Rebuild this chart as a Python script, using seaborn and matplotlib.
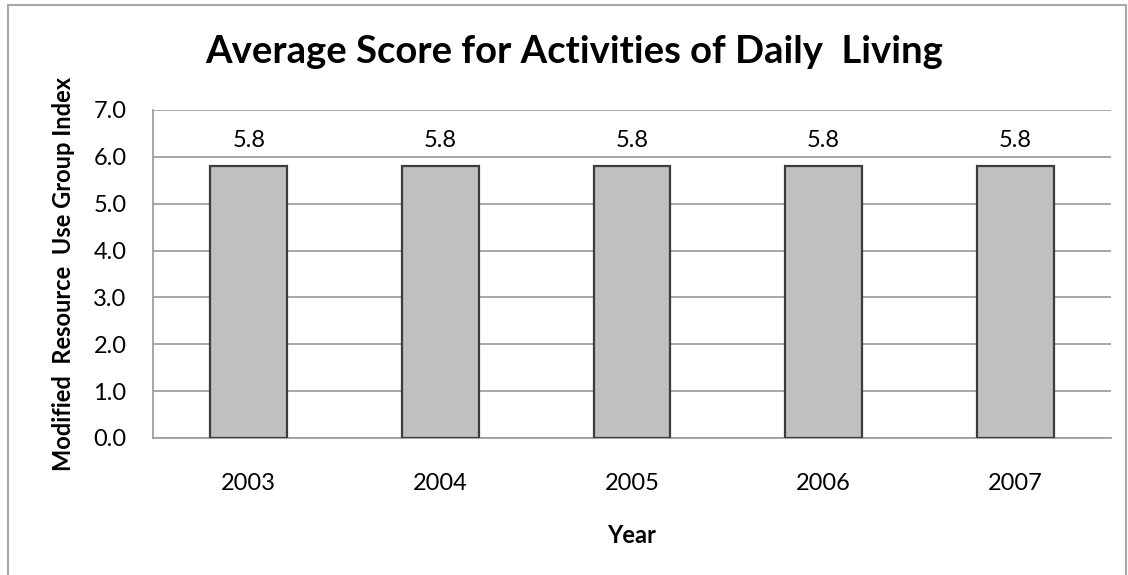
import matplotlib
matplotlib.use("Agg")
import matplotlib.pyplot as plt
from matplotlib.patches import Rectangle
import numpy as np
import pandas as pd
import seaborn as sns

# chart data
years = ["2003", "2004", "2005", "2006", "2007"]
scores = [5.8, 5.8, 5.8, 5.8, 5.8]
y_ticks = [0.0, 1.0, 2.0, 3.0, 4.0, 5.0, 6.0, 7.0]

df = pd.DataFrame({"Year": years, "Score": scores})

sns.set_style("white")
plt.rcParams['font.family'] = ['Lato', 'DejaVu Sans']
plt.rcParams['text.color'] = "black"
plt.rcParams['xtick.labelcolor'] = "black"
plt.rcParams['ytick.labelcolor'] = "black"
plt.rcParams['axes.labelcolor'] = "black"

fs = 17

fig = plt.figure(figsize=(11.28, 5.75), dpi=100)
ax = fig.add_axes([153 / 1128, 1 - 438 / 575, (1111 - 153) / 1128, (438 - 110) / 575])

sns.barplot(data=df, x="Year", y="Score", color="#C0C0C0", width=0.4,
            edgecolor="#3C3C3C", linewidth=1.6, saturation=1, ax=ax, zorder=3)

grid_col = "#A0A0A0"
ax.set_ylim(0, 7)
ax.set_xlim(-0.5, len(years) - 0.5)
ax.set_yticks(y_ticks)
ax.set_yticklabels([f"{v:.1f}" for v in y_ticks], fontsize=fs)
ax.yaxis.grid(True, color=grid_col, linewidth=1.3, zorder=0)
ax.set_axisbelow(True)

# category ticks at boundaries, labels at centres
ax.set_xticks(np.arange(-0.5, len(years), 1.0))
ax.set_xticklabels([])
ax.set_xticks(np.arange(len(years)), minor=True)
ax.set_xticklabels(years, minor=True, fontsize=fs)
ax.tick_params(axis="x", which="major", length=6, width=1.3, color=grid_col, direction="out")
ax.tick_params(axis="x", which="minor", length=0, pad=25.5)
ax.tick_params(axis="y", length=7, width=1.3, color=grid_col, direction="out", pad=12)

for s in ["top", "right"]:
    ax.spines[s].set_visible(False)
for s in ["left", "bottom"]:
    ax.spines[s].set_color(grid_col)
    ax.spines[s].set_linewidth(1.3)

for c in ax.containers:
    ax.bar_label(c, fmt="%.1f", padding=11, fontsize=fs)

ax.set_xlabel("Year", fontsize=fs, fontweight="bold", labelpad=21)
ax.set_ylabel("Modified  Resource  Use Group Index", fontsize=fs, fontweight="bold", labelpad=13)
fig.text(0.509, 0.91, "Average Score for Activities of Daily  Living", ha="center", va="center",
         fontsize=27.5, fontweight="bold")

# outer chart border (bottom edge is cut off in the original)
fig.patches.append(Rectangle((8 / 1128, -0.02), (1126 - 8) / 1128, 1.02 - 5 / 575,
                             transform=fig.transFigure, fill=False,
                             edgecolor="#A8A8A8", linewidth=1.5))

fig.savefig("out.png", dpi=100)
